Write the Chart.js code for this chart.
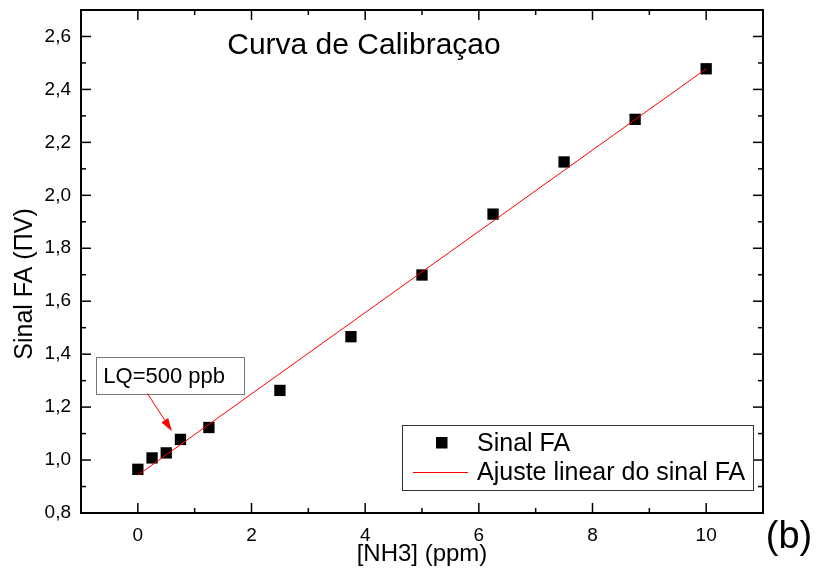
<!DOCTYPE html>
<html>
<head>
<meta charset="utf-8">
<script src="https://cdn.jsdelivr.net/npm/chart.js@4.4.1/dist/chart.umd.min.js"></script>
<style>
    html, body { margin: 0; padding: 0; background: #fff; }
    #wrap { width: 820px; height: 571px; }
</style>
</head>
<body>
<div id="wrap"><canvas id="calChart" width="820" height="571"></canvas></div>
<script>
// --- data ---
const concentrations = [0, 0.25, 0.5, 0.75, 1.25, 2.5, 3.75, 5, 6.25, 7.5, 8.75, 10];
const signals = [0.965, 1.008, 1.027, 1.078, 1.123, 1.263, 1.466, 1.699, 1.929, 2.126, 2.287, 2.478];
const fitX = [0, 10];
const fitY = [0.943, 2.478];
const xTickValues = [0, 2, 4, 6, 8, 10];
const yTickValues = [0.8, 1.0, 1.2, 1.4, 1.6, 1.8, 2.0, 2.2, 2.4, 2.6];
const xMinorTicks = [1, 3, 5, 7, 9];
const yMinorTicks = [0.9, 1.1, 1.3, 1.5, 1.7, 1.9, 2.1, 2.3, 2.5];

const FONT = "'Liberation Sans', Arial, sans-serif";
Chart.defaults.font.family = FONT;
Chart.defaults.color = '#000';

// annotation anchored in data units
const lqNote = { text: 'LQ=500 ppb', left: -0.73, top: 1.388, right: 1.868, bottom: 1.248, tail: [0.17, 1.251], tip: [0.60, 1.109] };

const decorPlugin = {
    id: 'decor',
    afterDraw(chart) {
        const ctx = chart.ctx;
        const { left, top, right, bottom } = chart.chartArea;
        const xs = chart.scales.x, ys = chart.scales.y;
        ctx.save();

        // frame
        ctx.strokeStyle = '#000';
        ctx.lineWidth = 2;
        ctx.strokeRect(left, top, right - left, bottom - top);

        // inward ticks on all four sides
        ctx.lineWidth = 1.5;
        const tick = (x1, y1, x2, y2) => { ctx.beginPath(); ctx.moveTo(x1, y1); ctx.lineTo(x2, y2); ctx.stroke(); };
        xTickValues.forEach(v => { const p = xs.getPixelForValue(v); tick(p, bottom, p, bottom - 10); tick(p, top, p, top + 10); });
        xMinorTicks.forEach(v => { const p = xs.getPixelForValue(v); tick(p, bottom, p, bottom - 5); tick(p, top, p, top + 5); });
        yTickValues.forEach(v => { const p = ys.getPixelForValue(v); tick(left, p, left + 10, p); tick(right, p, right - 10, p); });
        yMinorTicks.forEach(v => { const p = ys.getPixelForValue(v); tick(left, p, left + 5, p); tick(right, p, right - 5, p); });

        // title inside plot
        ctx.fillStyle = '#000';
        ctx.textBaseline = 'alphabetic';
        ctx.textAlign = 'center';
        ctx.font = '30px ' + FONT;
        ctx.fillText('Curva de Calibraçao', 364, 54);

        // axis titles
        ctx.textBaseline = 'middle';
        ctx.font = '24px ' + FONT;
        ctx.fillText('[NH3] (ppm)', (left + right) / 2, 554);
        ctx.save();
        ctx.translate(25, 284);
        ctx.rotate(-Math.PI / 2);
        ctx.font = '25px ' + FONT;
        ctx.fillText('Sinal FA (ΠV)', 0, 0);
        ctx.restore();

        // panel label
        ctx.font = '38px ' + FONT;
        ctx.fillText('(b)', 789, 538);

        // legend
        const pts = chart.data.datasets[1], fit = chart.data.datasets[0];
        ctx.fillStyle = '#fff';
        ctx.fillRect(402, 425, 351, 65);
        ctx.strokeStyle = '#333';
        ctx.lineWidth = 1;
        ctx.strokeRect(402.5, 425.5, 351, 65);
        ctx.fillStyle = pts.backgroundColor;
        ctx.fillRect(436, 437, 11.5, 11.5);
        ctx.strokeStyle = fit.borderColor;
        tick(413, 472.5, 468, 472.5);
        ctx.fillStyle = '#000';
        ctx.textAlign = 'left';
        ctx.font = '25px ' + FONT;
        ctx.fillText(pts.label, 477, 444);
        ctx.fillText(fit.label, 477, 473);

        // LQ annotation
        const bx1 = xs.getPixelForValue(lqNote.left), bx2 = xs.getPixelForValue(lqNote.right);
        const by1 = ys.getPixelForValue(lqNote.top), by2 = ys.getPixelForValue(lqNote.bottom);
        ctx.strokeStyle = '#777';
        ctx.lineWidth = 1;
        ctx.strokeRect(Math.round(bx1) + 0.5, Math.round(by1) + 0.5, Math.round(bx2 - bx1), Math.round(by2 - by1));
        ctx.font = '22px ' + FONT;
        ctx.fillText(lqNote.text, bx1 + 7, (by1 + by2) / 2 + 1);

        const tx = xs.getPixelForValue(lqNote.tail[0]), ty = ys.getPixelForValue(lqNote.tail[1]);
        const hx = xs.getPixelForValue(lqNote.tip[0]), hy = ys.getPixelForValue(lqNote.tip[1]);
        const ang = Math.atan2(hy - ty, hx - tx);
        ctx.strokeStyle = '#ff0000';
        ctx.fillStyle = '#ff0000';
        tick(tx, ty, hx - 10 * Math.cos(ang), hy - 10 * Math.sin(ang));
        ctx.beginPath();
        ctx.moveTo(hx, hy);
        ctx.lineTo(hx - 13 * Math.cos(ang) + 4 * Math.sin(ang), hy - 13 * Math.sin(ang) - 4 * Math.cos(ang));
        ctx.lineTo(hx - 13 * Math.cos(ang) - 4 * Math.sin(ang), hy - 13 * Math.sin(ang) + 4 * Math.cos(ang));
        ctx.closePath();
        ctx.fill();

        ctx.restore();
    }
};

new Chart(document.getElementById('calChart'), {
    type: 'scatter',
    data: {
        datasets: [
            {
                label: 'Ajuste linear do sinal FA',
                data: fitX.map((x, i) => ({ x: x, y: fitY[i] })),
                showLine: true,
                borderColor: '#ff0000',
                borderWidth: 1,
                pointRadius: 0,
                order: 0
            },
            {
                label: 'Sinal FA',
                data: concentrations.map((x, i) => ({ x: x, y: signals[i] })),
                pointStyle: 'rect',
                pointRadius: 8,
                backgroundColor: '#000',
                borderWidth: 0,
                order: 1
            }
        ]
    },
    options: {
        responsive: false,
        animation: false,
        layout: { padding: { top: 10, right: 57, left: 0, bottom: 0 } },
        plugins: { legend: { display: false }, tooltip: { enabled: false } },
        scales: {
            x: {
                type: 'linear',
                min: -1,
                max: 11,
                afterBuildTicks: s => { s.ticks = xTickValues.map(v => ({ value: v })); },
                afterFit: s => { s.height = 58; s.paddingLeft = 0; s.paddingRight = 0; },
                grid: { display: false, drawTicks: false },
                border: { display: false },
                ticks: { font: { size: 19 }, color: '#000', padding: 11, callback: v => String(v) }
            },
            y: {
                type: 'linear',
                min: 0.8,
                max: 2.7,
                afterBuildTicks: s => { s.ticks = yTickValues.map(v => ({ value: v })); },
                afterFit: s => { s.width = 81; s.paddingTop = 0; s.paddingBottom = 0; },
                grid: { display: false, drawTicks: false },
                border: { display: false },
                ticks: { font: { size: 19 }, color: '#000', padding: 10, callback: v => v.toFixed(1).replace('.', ',') }
            }
        }
    },
    plugins: [decorPlugin]
});
</script>
</body>
</html>
